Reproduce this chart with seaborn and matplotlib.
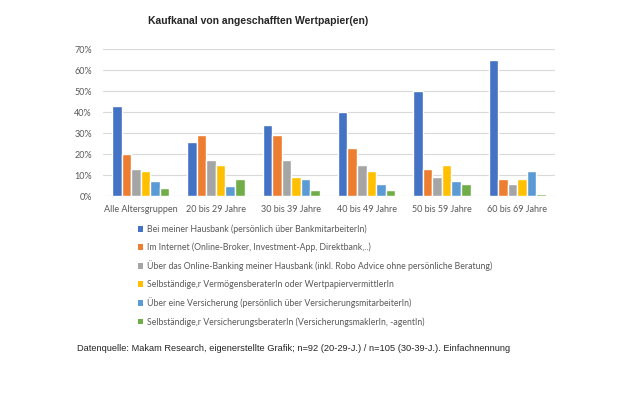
import matplotlib
matplotlib.use("Agg")
import matplotlib.pyplot as plt
import seaborn as sns
import pandas as pd
from matplotlib.patches import Patch

categories = ["Alle Altersgruppen", "20 bis 29 Jahre", "30 bis 39 Jahre",
              "40 bis 49 Jahre", "50 bis 59 Jahre", "60 bis 69 Jahre"]
series_names = [
    "Bei meiner Hausbank (persönlich über BankmitarbeiterIn)",
    "Im Internet (Online-Broker, Investment-App, Direktbank,..)",
    "Über das Online-Banking meiner Hausbank (inkl. Robo Advice ohne persönliche Beratung)",
    "Selbständige,r VermögensberaterIn oder WertpapiervermittlerIn",
    "Über eine Versicherung (persönlich über VersicherungsmitarbeiterIn)",
    "Selbständige,r VersicherungsberaterIn (VersicherungsmaklerIn, -agentIn)",
]
hausbank = [0.43, 0.26, 0.34, 0.40, 0.50, 0.65]
internet = [0.20, 0.29, 0.29, 0.23, 0.13, 0.08]
online_banking = [0.13, 0.17, 0.17, 0.15, 0.09, 0.06]
vermoegensberater = [0.12, 0.15, 0.09, 0.12, 0.15, 0.08]
versicherung = [0.07, 0.05, 0.08, 0.06, 0.07, 0.12]
versicherungsberater = [0.04, 0.08, 0.03, 0.03, 0.06, 0.01]
tick_values = [0, 0.1, 0.2, 0.3, 0.4, 0.5, 0.6, 0.7]
tick_labels = ["0%", "10%", "20%", "30%", "40%", "50%", "60%", "70%"]
colors = ["#4472C4", "#ED7D31", "#A5A5A5", "#FFC000", "#5B9BD5", "#70AD47"]

all_series = [hausbank, internet, online_banking, vermoegensberater, versicherung, versicherungsberater]
rows = []
for name, vals in zip(series_names, all_series):
    for c, v in zip(categories, vals):
        rows.append({"Kategorie": c, "Kanal": name, "Wert": v})
df = pd.DataFrame(rows)

sns.set_theme(style="white")
plt.rcParams['font.family'] = ['Lato', 'DejaVu Sans']

fig = plt.figure(figsize=(6.2, 4.13), dpi=100)
ax = fig.add_axes([0.166, 0.525, 0.729, 0.356])
sns.barplot(data=df, x="Kategorie", y="Wert", hue="Kanal", order=categories,
            hue_order=series_names, palette=colors, width=0.76, ax=ax,
            saturation=1, legend=False, errorbar=None)
ax.set_xlim(-0.5, len(categories) - 0.5)
ax.set_ylim(0, 0.7)
ax.set_yticks(tick_values)
ax.set_yticklabels(tick_labels)
ax.yaxis.grid(True, color="#D9D9D9", linewidth=0.8)
ax.set_axisbelow(True)
for s in ax.spines.values():
    s.set_visible(False)
ax.axhline(0, color="#D9D9D9", linewidth=0.8, zorder=0)
ax.set_xlabel("")
ax.set_ylabel("")
ax.tick_params(axis="both", length=0, labelsize=6.5, colors="#595959", pad=8)
ax.tick_params(axis="x", pad=6)

fig.text(0.416, 0.948, "Kaufkanal von angeschafften Wertpapier(en)", ha="center",
         va="center", fontsize=7.5, fontweight="bold", family=["Liberation Sans"])

handles = [Patch(facecolor=c, edgecolor="none") for c in colors]
leg = fig.legend(handles, series_names, loc="upper left",
                 bbox_to_anchor=(0.222, 0.457), frameon=False, fontsize=6.3,
                 labelspacing=0.98, handlelength=0.65, handleheight=0.65,
                 handletextpad=0.4, borderpad=0, borderaxespad=0)
for t in leg.get_texts():
    t.set_color("#595959")

fig.text(0.124, 0.157, "Datenquelle: Makam Research, eigenerstellte Grafik; n=92 (20-29-J.) / n=105 (30-39-J.). Einfachnennung",
         ha="left", va="center", fontsize=6.7, family=["Liberation Sans"])

fig.savefig("out.png", dpi=100, facecolor="white")
